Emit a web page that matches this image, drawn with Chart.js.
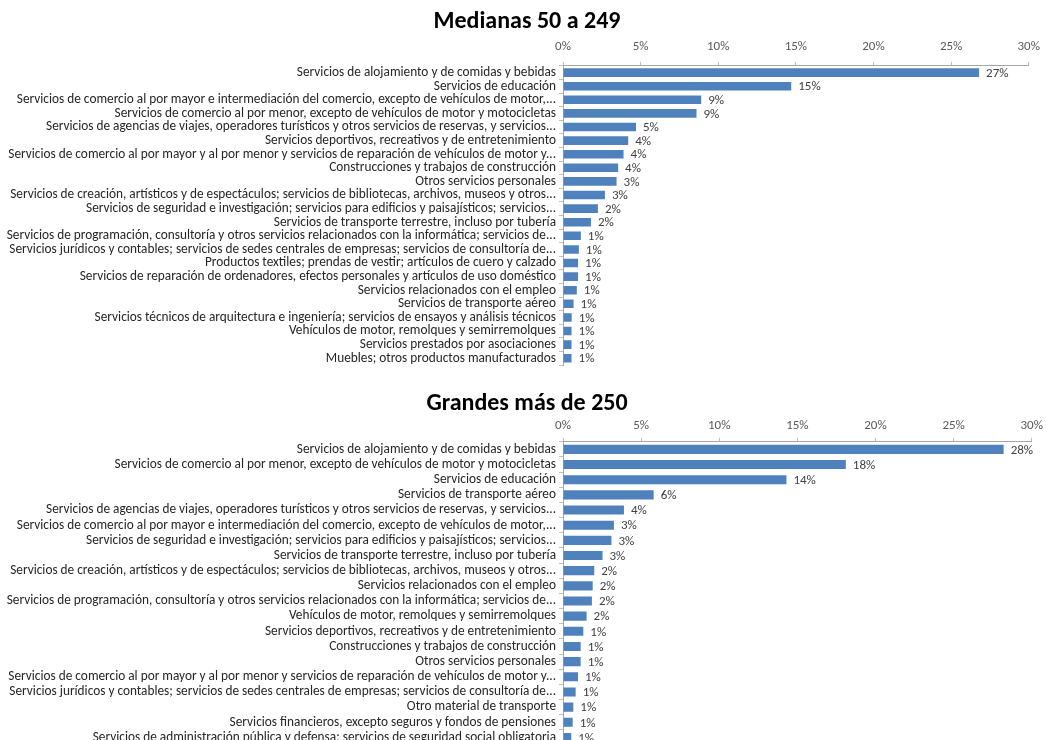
<!DOCTYPE html>
<html>
<head>
<meta charset="utf-8">
<script src="https://cdn.jsdelivr.net/npm/chart.js@4/dist/chart.umd.min.js"></script>
<style>
  html, body { margin: 0; padding: 0; background: #fff; overflow: hidden; }
  body { width: 1047px; height: 740px; position: relative; }
  .box { position: absolute; left: 0; width: 1047px; }
  #boxTop { top: 0; height: 376px; }
  #boxBottom { top: 380px; height: 376px; }
</style>
</head>
<body>
<div class="box" id="boxTop"><canvas id="chartTop"></canvas></div>
<div class="box" id="boxBottom"><canvas id="chartBottom"></canvas></div>
<script>
// Medianas 50 a 249
const medianasLabels = [
  'Servicios de alojamiento y de comidas y bebidas',
  'Servicios de educación',
  'Servicios de comercio al por mayor e intermediación del comercio, excepto de vehículos de motor,...',
  'Servicios de comercio al por menor, excepto de vehículos de motor y motocicletas',
  'Servicios de agencias de viajes, operadores turísticos y otros servicios de reservas, y servicios...',
  'Servicios deportivos, recreativos y de entretenimiento',
  'Servicios de comercio al por mayor y al por menor y servicios de reparación de vehículos de motor y...',
  'Construcciones y trabajos de construcción',
  'Otros servicios personales',
  'Servicios de creación, artísticos y de espectáculos; servicios de bibliotecas, archivos, museos y otros...',
  'Servicios de seguridad e investigación; servicios para edificios y paisajísticos; servicios...',
  'Servicios de transporte terrestre, incluso por tubería',
  'Servicios de programación, consultoría y otros servicios relacionados con la informática; servicios de...',
  'Servicios jurídicos y contables; servicios de sedes centrales de empresas; servicios de consultoría de...',
  'Productos textiles; prendas de vestir; artículos de cuero y calzado',
  'Servicios de reparación de ordenadores, efectos personales y artículos de uso doméstico',
  'Servicios relacionados con el empleo',
  'Servicios de transporte aéreo',
  'Servicios técnicos de arquitectura e ingeniería; servicios de ensayos y análisis técnicos',
  'Vehículos de motor, remolques y semirremolques',
  'Servicios prestados por asociaciones',
  'Muebles; otros productos manufacturados'
];
const medianasValues = [26.8, 14.7, 8.9, 8.6, 4.7, 4.2, 3.9, 3.55, 3.45, 2.7, 2.25, 1.8,
  1.15, 1.02, 0.97, 0.97, 0.89, 0.68, 0.56, 0.55, 0.55, 0.55];

// Grandes más de 250
const grandesLabels = [
  'Servicios de alojamiento y de comidas y bebidas',
  'Servicios de comercio al por menor, excepto de vehículos de motor y motocicletas',
  'Servicios de educación',
  'Servicios de transporte aéreo',
  'Servicios de agencias de viajes, operadores turísticos y otros servicios de reservas, y servicios...',
  'Servicios de comercio al por mayor e intermediación del comercio, excepto de vehículos de motor,...',
  'Servicios de seguridad e investigación; servicios para edificios y paisajísticos; servicios...',
  'Servicios de transporte terrestre, incluso por tubería',
  'Servicios de creación, artísticos y de espectáculos; servicios de bibliotecas, archivos, museos y otros...',
  'Servicios relacionados con el empleo',
  'Servicios de programación, consultoría y otros servicios relacionados con la informática; servicios de...',
  'Vehículos de motor, remolques y semirremolques',
  'Servicios deportivos, recreativos y de entretenimiento',
  'Construcciones y trabajos de construcción',
  'Otros servicios personales',
  'Servicios de comercio al por mayor y al por menor y servicios de reparación de vehículos de motor y...',
  'Servicios jurídicos y contables; servicios de sedes centrales de empresas; servicios de consultoría de...',
  'Otro material de transporte',
  'Servicios financieros, excepto seguros y fondos de pensiones',
  'Servicios de administración pública y defensa; servicios de seguridad social obligatoria'
];
const grandesValues = [28.2, 18.1, 14.3, 5.8, 3.9, 3.26, 3.1, 2.53, 2.0, 1.9, 1.85, 1.51,
  1.3, 1.13, 1.13, 0.96, 0.81, 0.66, 0.62, 0.53];

const xTicks = [0, 5, 10, 15, 20, 25, 30];

const FONT = 'Carlito, Calibri, Lato, sans-serif';

// draws the "27%" labels after each bar
const valueLabels = {
  id: 'valueLabels',
  afterDatasetsDraw(chart) {
    const ctx = chart.ctx;
    const meta = chart.getDatasetMeta(0);
    const data = chart.data.datasets[0].data;
    ctx.save();
    ctx.font = '13px ' + FONT;
    ctx.fillStyle = '#404040';
    ctx.textAlign = 'left';
    ctx.textBaseline = 'middle';
    meta.data.forEach(function (bar, i) {
      ctx.fillText(Math.round(data[i]) + '%', bar.x + 7, bar.y + 1);
    });
    ctx.restore();
  }
};

// nudge the title a little right, like the original
const titleShift = {
  id: 'titleShift',
  afterLayout(chart) {
    if (chart.titleBlock) chart.titleBlock.left += 20;
  }
};

function makeChart(id, title, labels, values, opt) {
  const ctx = document.getElementById(id).getContext('2d');
  return new Chart(ctx, {
    type: 'bar',
    data: {
      labels: labels,
      datasets: [{
        data: values,
        backgroundColor: '#4F81BD',
        borderWidth: 0,
        barPercentage: opt.bar,
        categoryPercentage: 1
      }]
    },
    options: {
      indexAxis: 'y',
      responsive: true,
      maintainAspectRatio: false,
      animation: false,
      layout: { padding: { left: 0, right: 13, top: 0, bottom: 0 } },
      plugins: {
        legend: { display: false },
        tooltip: { enabled: false },
        title: {
          display: true,
          text: title,
          color: '#000',
          font: { family: FONT, size: 24, weight: 'bold', lineHeight: 1.2 },
          padding: { top: opt.titleTop, bottom: 0 }
        }
      },
      scales: {
        x: {
          position: 'top',
          min: 0,
          max: 30,
          afterBuildTicks: function (scale) {
            scale.ticks = xTicks.map(function (v) { return { value: v }; });
          },
          afterFit: function (scale) { scale.height = opt.xHeight; },
          grid: { drawOnChartArea: false, tickLength: 4, color: '#BFBFBF' },
          border: { color: '#A6A6A6' },
          ticks: {
            padding: opt.xPad,
            color: '#595959',
            font: { family: FONT, size: 13 },
            callback: function (v) { return v + '%'; }
          }
        },
        y: {
          afterFit: function (scale) { scale.width = 563; },
          grid: { drawOnChartArea: false, tickLength: 4, color: '#BFBFBF', offset: true },
          border: { color: '#A6A6A6' },
          ticks: {
            padding: 3,
            autoSkip: false,
            color: '#262626',
            font: { family: FONT, size: 13.3 }
          }
        }
      }
    },
    plugins: [valueLabels, titleShift]
  });
}

makeChart('chartTop', 'Medianas 50 a 249', medianasLabels, medianasValues,
  { bar: 0.63, titleTop: 8, xHeight: 29, xPad: 7 });
makeChart('chartBottom', 'Grandes más de 250', grandesLabels, grandesValues,
  { bar: 0.6, titleTop: 10, xHeight: 23, xPad: 4 });
</script>
</body>
</html>
